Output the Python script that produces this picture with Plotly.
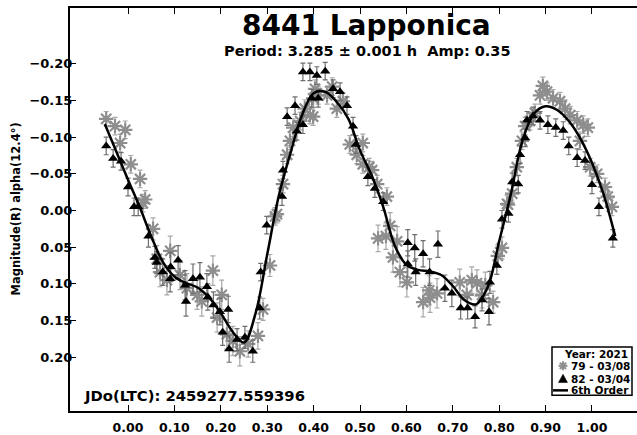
import plotly.graph_objects as go

# ---- data ----
curve_phase = [-0.05, -0.025, 0.0, 0.025, 0.05, 0.075, 0.10, 0.125, 0.15, 0.175, 0.20, 0.225, 0.25,
               0.275, 0.30, 0.325, 0.35, 0.375, 0.40, 0.425, 0.45, 0.475, 0.50, 0.525, 0.55, 0.575,
               0.60, 0.625, 0.65, 0.675, 0.70, 0.725, 0.75, 0.775, 0.80, 0.825, 0.85, 0.875, 0.90,
               0.925, 0.95, 0.975, 1.00, 1.025, 1.05]
curve_mag = [-0.118, -0.080, -0.042, -0.005, 0.035, 0.070, 0.090, 0.099, 0.105, 0.119, 0.140, 0.165, 0.180,
             0.140, 0.060, -0.020, -0.078, -0.130, -0.160, -0.162, -0.148, -0.125, -0.082, -0.048, -0.005, 0.048,
             0.074, 0.081, 0.083, 0.088, 0.103, 0.122, 0.128, 0.105, 0.042, -0.022, -0.095, -0.132, -0.142,
             -0.137, -0.122, -0.098, -0.065, -0.022, 0.035]

tri_phase = [-0.047, -0.032, -0.015, 0.000, 0.013, 0.022, 0.044, 0.058, 0.062, 0.075, 0.092, 0.091, 0.108,
             0.123, 0.125, 0.140, 0.155, 0.170, 0.172, 0.184, 0.198, 0.204, 0.216, 0.218, 0.235, 0.252,
             0.269, 0.284, 0.286, 0.299, 0.332, 0.334, 0.343, 0.360, 0.364, 0.377, 0.377, 0.392, 0.396,
             0.407, 0.410, 0.425, 0.442, 0.457, 0.472, 0.485, 0.491, 0.517, 0.532, 0.550, 0.603, 0.618,
             0.636, 0.668, 0.603, 0.620, 0.650, 0.683, 0.698, 0.717, 0.732, 0.748, 0.763, 0.778, 0.780,
             0.795, 0.806, 0.820, 0.828, 0.841, 0.845, 0.856, 0.860, 0.873, 0.888, 0.905, 0.922, 0.938,
             0.950, 0.968, 0.985, 1.000, 1.015, 1.045]
tri_mag = [-0.088, -0.071, -0.067, -0.032, -0.005, -0.005, 0.035, 0.064, 0.071, 0.084, 0.077, 0.093, 0.068,
           0.102, 0.124, 0.093, 0.091, 0.104, 0.118, 0.129, 0.138, 0.166, 0.135, 0.189, 0.176, 0.173,
           0.192, 0.133, 0.084, 0.020, -0.019, -0.055, -0.128, -0.143, -0.108, -0.117, -0.189, -0.189, -0.153,
           -0.184, -0.153, -0.190, -0.166, -0.162, -0.143, -0.115, -0.090, -0.046, -0.030, -0.012, 0.044, 0.051,
           0.059, 0.046, 0.073, 0.084, 0.084, 0.106, 0.113, 0.133, 0.133, 0.145, 0.122, 0.138, 0.098,
           0.075, 0.012, 0.004, -0.039, -0.036, -0.076, -0.099, -0.123, -0.129, -0.123, -0.117, -0.113, -0.109,
           -0.088, -0.072, -0.068, -0.035, -0.005, 0.038]
tri_err = [0.012, 0.012, 0.012, 0.012, 0.012, 0.012, 0.015, 0.015, 0.015, 0.018, 0.020, 0.018, 0.020,
           0.020, 0.020, 0.020, 0.020, 0.018, 0.018, 0.018, 0.018, 0.018, 0.018, 0.018, 0.015, 0.015,
           0.015, 0.015, 0.012, 0.012, 0.012, 0.012, 0.012, 0.012, 0.012, 0.012, 0.012, 0.012, 0.012,
           0.012, 0.012, 0.012, 0.012, 0.012, 0.012, 0.012, 0.012, 0.012, 0.012, 0.012, 0.018, 0.018,
           0.018, 0.018, 0.018, 0.018, 0.018, 0.018, 0.018, 0.015, 0.015, 0.015, 0.015, 0.018, 0.015,
           0.012, 0.012, 0.012, 0.012, 0.012, 0.012, 0.012, 0.012, 0.012, 0.012, 0.012, 0.012, 0.012,
           0.012, 0.012, 0.012, 0.012, 0.012, 0.012]

ast_phase = [-0.047, -0.028, -0.006, -0.017, 0.006, 0.026, 0.037, 0.032, 0.054, 0.062, 0.069, 0.084, 0.091,
             0.112, 0.127, 0.149, 0.159, 0.183, 0.192, 0.202, 0.213, 0.226, 0.241, 0.259, 0.280, 0.291,
             0.306, 0.317, 0.321, 0.334, 0.343, 0.349, 0.356, 0.371, 0.381, 0.399, 0.403, 0.410, 0.392,
             0.399, 0.429, 0.440, 0.450, 0.463, 0.478, 0.493, 0.506, 0.526, 0.537, 0.558, 0.506, 0.520,
             0.539, 0.556, 0.565, 0.571, 0.580, 0.586, 0.601, 0.636, 0.649, 0.666, 0.651, 0.715, 0.730,
             0.741, 0.752, 0.763, 0.770, 0.787, 0.797, 0.806, 0.819, 0.817, 0.828, 0.838, 0.849, 0.856,
             0.866, 0.877, 0.888, 0.894, 0.903, 0.916, 0.931, 0.942, 0.953, 0.968, 0.981, 0.991, 0.974,
             0.996, 1.011, 1.028, 1.034, 1.043]
ast_mag = [-0.125, -0.115, -0.110, -0.092, -0.063, -0.043, -0.015, -0.010, 0.025, 0.066, 0.084, 0.095, 0.055,
           0.088, 0.106, 0.115, 0.124, 0.082, 0.146, 0.115, 0.169, 0.178, 0.192, 0.182, 0.171, 0.135,
           0.075, 0.008, 0.005, -0.036, -0.076, -0.095, -0.113, -0.122, -0.139, -0.128, -0.166, -0.157, -0.130,
           -0.153, -0.157, -0.169, -0.139, -0.149, -0.090, -0.076, -0.063, -0.055, -0.036, -0.019, -0.092, -0.059,
           0.038, 0.035, 0.021, 0.064, 0.042, 0.084, 0.098, 0.125, 0.109, 0.113, 0.119, 0.098, 0.115,
           0.095, 0.099, 0.115, 0.102, 0.125, 0.062, 0.051, -0.008, -0.009, -0.023, -0.059, -0.095, -0.115,
           -0.122, -0.133, -0.157, -0.170, -0.162, -0.153, -0.149, -0.139, -0.130, -0.123, -0.117, -0.113, -0.095,
           -0.059, -0.050, -0.032, -0.019, -0.005]
ast_err = [0.010, 0.012, 0.012, 0.012, 0.012, 0.012, 0.012, 0.012, 0.015, 0.018, 0.020, 0.020, 0.020,
           0.020, 0.020, 0.020, 0.020, 0.020, 0.020, 0.020, 0.020, 0.020, 0.020, 0.018, 0.018, 0.015,
           0.015, 0.012, 0.012, 0.012, 0.012, 0.012, 0.012, 0.012, 0.012, 0.012, 0.012, 0.012, 0.012,
           0.012, 0.012, 0.012, 0.012, 0.012, 0.012, 0.012, 0.012, 0.012, 0.012, 0.012, 0.012, 0.012,
           0.018, 0.018, 0.018, 0.020, 0.020, 0.020, 0.020, 0.020, 0.020, 0.020, 0.020, 0.018, 0.018,
           0.018, 0.018, 0.018, 0.018, 0.015, 0.015, 0.015, 0.012, 0.012, 0.012, 0.012, 0.012, 0.012,
           0.012, 0.012, 0.012, 0.012, 0.012, 0.012, 0.012, 0.012, 0.012, 0.012, 0.012, 0.012, 0.012,
           0.012, 0.012, 0.012, 0.012, 0.012]

x_ticks = [0.0, 0.1, 0.2, 0.3, 0.4, 0.5, 0.6, 0.7, 0.8, 0.9, 1.0]
y_ticks = [-0.20, -0.15, -0.10, -0.05, 0.00, 0.05, 0.10, 0.15, 0.20]

series_names = ["79 - 03/08", "82 - 03/04", "6th Order"]
legend_title = "Year: 2021"

FONT = "DejaVu Sans, Arial, sans-serif"
GREY = "#8e8e8e"

# layout geometry in page pixels (body margin removed below)
W, H = 637, 435
ML, MR, MT, MB = 70, 0, 8, 17
PLOT_L, PLOT_B = ML, H - MB
PW, PH = W - ML - MR, H - MT - MB
PX_PER_MAG, Y_ZERO = 746.0, 214.0   # pixel scale of the magnitude axis


def px(X):
    return (X - PLOT_L) / PW


def py(Y):
    return (PLOT_B - Y) / PH


fig = go.Figure()
fig.add_trace(go.Scatter(
    x=ast_phase, y=ast_mag, mode="markers", name=series_names[0], showlegend=False,
    marker=dict(symbol="asterisk-open", size=12, color=GREY, line=dict(color=GREY, width=2.2)),
    error_y=dict(type="data", array=ast_err, color="#a8a8a8", thickness=1.2, width=2.5),
))
fig.add_trace(go.Scatter(
    x=tri_phase, y=tri_mag, mode="markers", name=series_names[1], showlegend=False,
    marker=dict(symbol="triangle-up", size=9, color="black"),
    error_y=dict(type="data", array=tri_err, color="#6e6e6e", thickness=1.2, width=2.5),
))
fig.add_trace(go.Scatter(
    x=curve_phase, y=curve_mag, mode="lines", name=series_names[2], showlegend=False,
    line=dict(color="black", width=2.5, shape="spline", smoothing=1.0),
))

# ---- hand-built legend box (compact like the reference) ----
shapes = [
    dict(type="rect", xref="paper", yref="paper", x0=px(552), x1=px(632), y0=py(402), y1=py(353),
         line=dict(color="black", width=1.5), fillcolor="white", layer="above"),
]
ax, ay, r = 563, 372, 4.5
d = r * 0.707
for (x0, y0, x1, y1) in [(ax - r, ay, ax + r, ay), (ax, ay - r, ax, ay + r),
                         (ax - d, ay - d, ax + d, ay + d), (ax - d, ay + d, ax + d, ay - d)]:
    shapes.append(dict(type="line", xref="paper", yref="paper", x0=px(x0), y0=py(y0), x1=px(x1), y1=py(y1),
                       line=dict(color=GREY, width=2), layer="above"))
tx, ty = 563, 385
shapes.append(dict(type="path", xref="paper", yref="paper",
                   path=f"M {px(tx-4.5)},{py(ty+4)} L {px(tx+4.5)},{py(ty+4)} L {px(tx)},{py(ty-4.5)} Z",
                   fillcolor="black", line=dict(color="black", width=0.5), layer="above"))
shapes.append(dict(type="line", xref="paper", yref="paper", x0=px(553), x1=px(568), y0=py(397), y1=py(397),
                   line=dict(color="black", width=2.5), layer="above"))


def ann(text, X, Y, size, xanchor="center", angle=0):
    return dict(text=text, x=px(X), y=py(Y), xref="paper", yref="paper", xanchor=xanchor, yanchor="middle",
                textangle=angle, showarrow=False, font=dict(size=size, family=FONT, weight="bold", color="black"))


annotations = [
    ann("8441 Lapponica", 366, 26, 28),
    ann("Period: 3.285 ± 0.001 h&nbsp;&nbsp;Amp: 0.35", 367, 52, 14.5),
    ann("JDo(LTC): 2459277.559396", 82, 402, 14.8, xanchor="left"),
    ann("Magnitude(R) alpha(12.4°)", 15, 213, 11.5, angle=-90),
    ann(legend_title, 630, 360, 10.5, xanchor="right"),
    ann(series_names[0], 569, 372, 10.5, xanchor="left"),
    ann(series_names[1], 569, 385, 10.5, xanchor="left"),
    ann(series_names[2], 569, 397, 10.5, xanchor="left"),
]

fig.update_layout(
    width=W, height=H,
    margin=dict(l=ML, r=MR, t=MT, b=MB),
    paper_bgcolor="white", plot_bgcolor="white",
    font=dict(family=FONT, color="black"),
    showlegend=False,
    xaxis=dict(
        range=[-0.125, 1.097], tickvals=x_ticks, tickformat=".2f",
        ticks="inside", ticklen=6, tickwidth=1, tickcolor="black",
        showline=True, linecolor="black", linewidth=2, mirror="ticks",
        showgrid=False, zeroline=False, ticklabelstandoff=4,
        tickfont=dict(size=12.5, family=FONT, weight="bold"),
    ),
    yaxis=dict(
        range=[(PLOT_B - Y_ZERO) / PX_PER_MAG, (PLOT_B - PH - Y_ZERO) / PX_PER_MAG],
        tickvals=y_ticks, tickformat=".2f",
        ticks="inside", ticklen=6, tickwidth=1, tickcolor="black",
        showline=True, linecolor="black", linewidth=2, mirror=False,
        showgrid=False, zeroline=False, ticklabelstandoff=-7,
        tickfont=dict(size=13, family=FONT, weight="bold"),
    ),
    shapes=shapes,
    annotations=annotations,
)

fig.write_html("out.html", config={"displayModeBar": False},
               post_script="document.body.style.margin='0';document.body.style.overflow='hidden';")
